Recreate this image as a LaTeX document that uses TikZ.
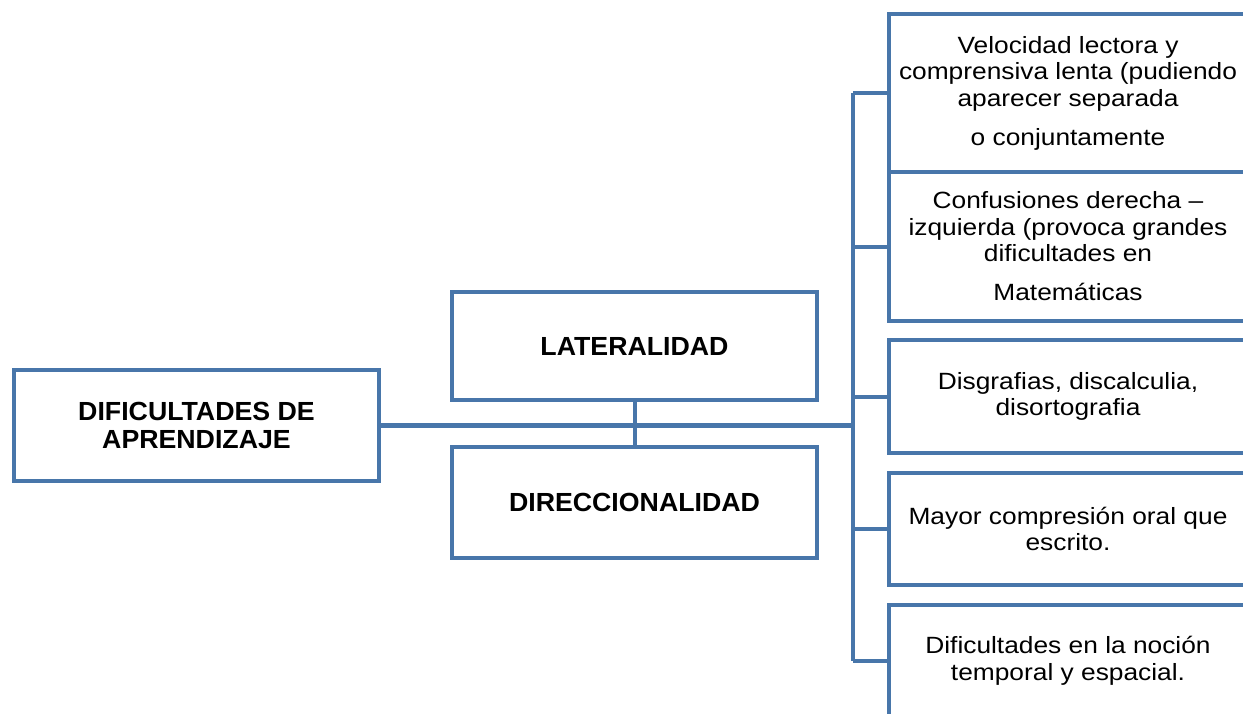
\documentclass[tikz,border=0pt]{standalone}
\usepackage{fontspec}
\setmainfont{Liberation Sans}
\newfontfamily\regf{Liberation Sans}[FakeStretch=1.12]
\newfontfamily\boldf{Liberation Sans}[FakeStretch=1.02]
\definecolor{bl}{RGB}{72,118,170}
\begin{document}
\begin{tikzpicture}[x=1pt,y=-1pt,
  box/.style={draw=bl, line width=4pt, inner sep=0pt, align=center, fill=white},
  bigbox/.style={box, minimum width=365pt, font=\boldf\bfseries\fontsize{26.2}{28}\selectfont},
  rbox/.style={box, minimum width=358pt, font=\regf\fontsize{23.5}{26.5}\selectfont},
  conn/.style={draw=bl, line width=4pt}]
\useasboundingbox (0,0) rectangle (1243,713);
\clip (0,0) rectangle (1243,713);
\fill[white] (0,0) rectangle (1243,713);
% left and middle boxes
\node[bigbox, minimum height=111pt] (main) at (196.5,425.5) {DIFICULTADES DE\\APRENDIZAJE};
\node[bigbox, minimum height=108pt] (lat) at (634.5,346) {LATERALIDAD};
\node[bigbox, minimum height=111pt] (dir) at (634.5,502.5) {DIRECCIONALIDAD};
% right boxes
\node[rbox, minimum height=158pt] (r1) at (1068,93) {Velocidad lectora y\\comprensiva lenta (pudiendo\\aparecer separada\\[12.5pt]o conjuntamente};
\node[rbox, minimum height=149pt] (r2) at (1068,246.5) {Confusiones derecha –\\izquierda (provoca grandes\\dificultades en\\[12.5pt]Matemáticas};
\node[rbox, minimum height=113pt] (r3) at (1068,396.5) {Disgrafias, discalculia,\\disortografia};
\node[rbox, minimum height=112pt] (r4) at (1068,529) {Mayor compresión oral que\\escrito.};
\node[rbox, minimum height=112pt] (r5) at (1068,661) {Dificultades en la noción\\temporal y espacial.};
% bus
\coordinate (btop) at (853,93);
\coordinate (bbot) at (853,661);
\draw[conn] (btop) -- (bbot);
\draw[conn, line width=5pt] (main.east) -- (main.east -| btop);
\draw[conn] (lat.south) -- (dir.north);
\foreach \r in {r1,r2,r3,r4,r5} {
  \draw[conn] (\r.west) -- (\r.west -| btop);
}
\end{tikzpicture}
\end{document}
